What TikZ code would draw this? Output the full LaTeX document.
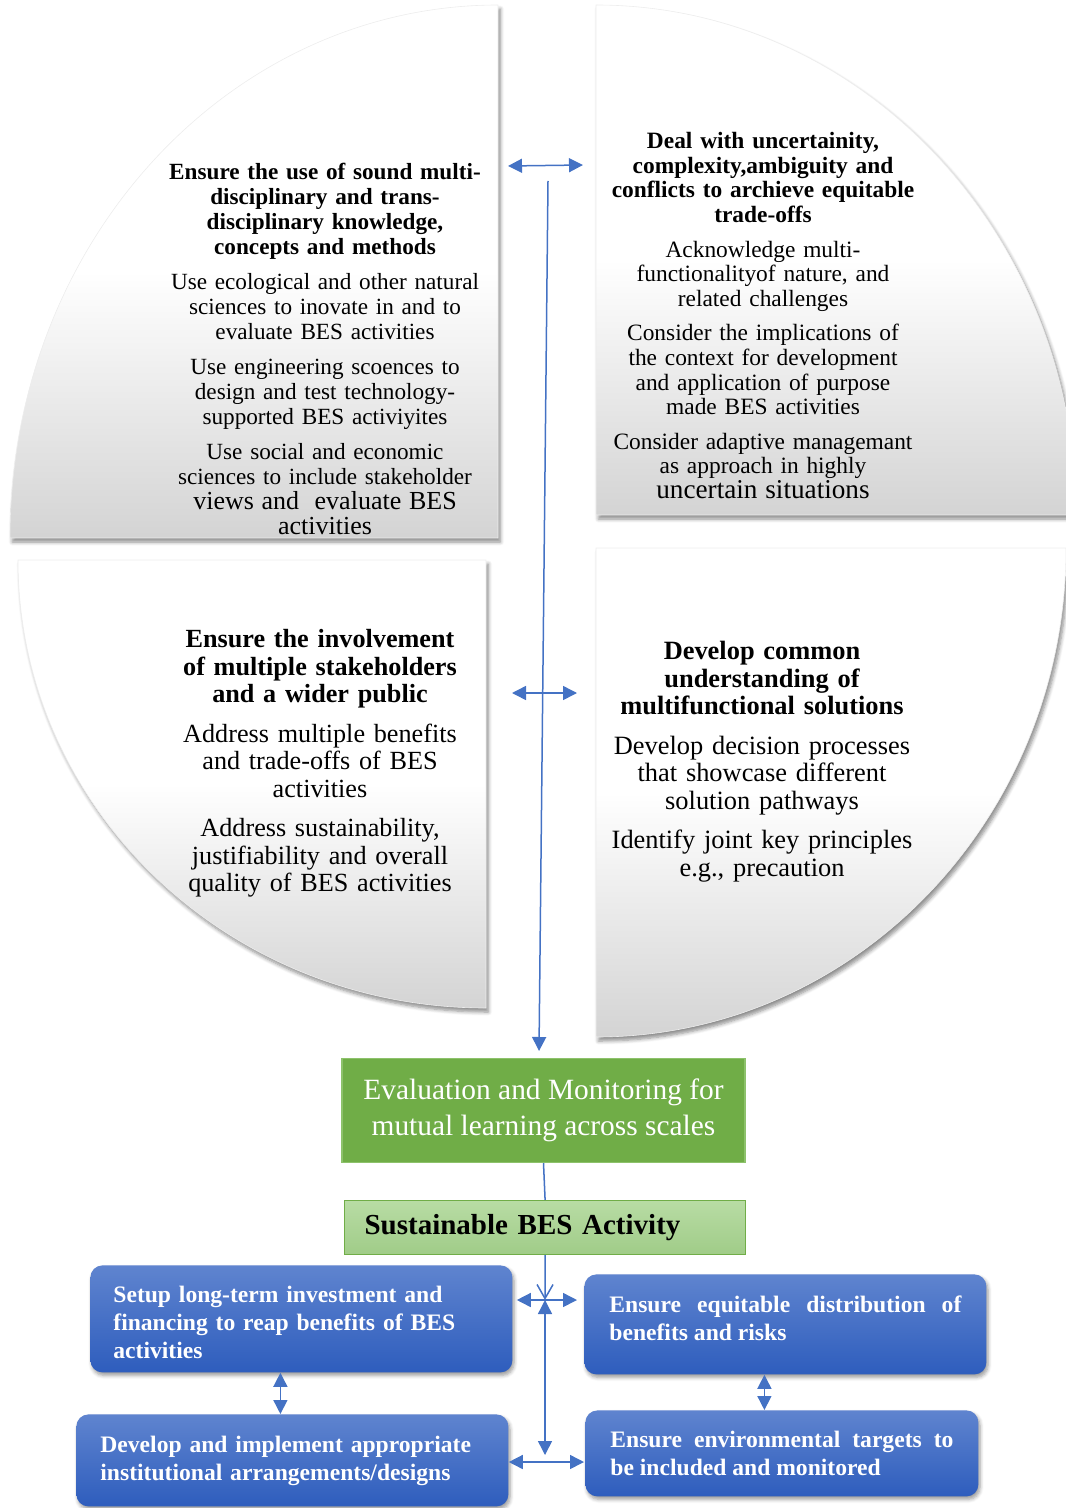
\documentclass[tikz,border=0pt]{standalone}
\usepackage{fontspec}
\setmainfont{Liberation Serif}
\usetikzlibrary{arrows.meta}
\usetikzlibrary{shadows.blur}

\definecolor{arrColor}{HTML}{4472C4}
\definecolor{evalColor}{HTML}{70AD47}
\definecolor{evalLine}{HTML}{8DC26B}
\definecolor{besTop}{HTML}{B8DCA4}
\definecolor{besBot}{HTML}{A0CC88}
\definecolor{boxTop}{HTML}{5F84CF}
\definecolor{boxBot}{HTML}{2E5DBD}

\tikzset{
  wedge/.style={top color=white, bottom color=black!17, middle color=white,
    draw=black!7, line width=0.3pt,
    blur shadow={shadow xshift=1.2pt, shadow yshift=-2pt, shadow blur steps=6, shadow opacity=45}},
  wedgetext/.style={anchor=north, align=center, inner sep=0pt, text width=#1},
  link/.style={arrColor, line width=0.75pt, {Triangle[length=7pt,width=7pt]}-{Triangle[length=7pt,width=7pt]}},
  actbox/.style={anchor=north west, rounded corners=6pt, top color=boxTop, bottom color=boxBot,
    text=white, font=\bfseries\fontsize{11.8}{14}\selectfont, inner ysep=0pt,
    blur shadow={shadow xshift=0.8pt, shadow yshift=-1.5pt, shadow blur steps=5, shadow opacity=40}},
}

\begin{document}
\begin{tikzpicture}[x=0.5pt, y=0.5pt]
    \useasboundingbox (0,0) rectangle (1065,-1508);

    % the four quarters of the circle
    \path[wedge] (498,-538) -- (10,-538) arc[start angle=180, end angle=90, x radius=244pt, y radius=266.5pt] -- cycle;
    \path[wedge] (596,-515) -- (596,-5) arc[start angle=90, end angle=0, x radius=240pt, y radius=255pt] -- cycle;
    \path[wedge] (486,-560) -- (18,-560) arc[start angle=180, end angle=270, x radius=234pt, y radius=224pt] -- cycle;
    \path[wedge] (596,-548) -- (1066,-548) arc[start angle=0, end angle=-90, x radius=235pt, y radius=244.5pt] -- cycle;

    \node[wedgetext=180pt, font=\fontsize{11.6}{12.5}\selectfont] (know) at (325,-163) {%
      {\bfseries Ensure the use of sound multi-\\disciplinary and trans-\\disciplinary knowledge,\\concepts and methods}\\[5pt]
      Use ecological and other natural\\sciences to inovate in and to\\evaluate BES activities\\[5pt]
      Use engineering scoences to\\design and test technology-\\supported BES activiyites\\[5pt]
      Use social and economic\\sciences to include stakeholder\\{\fontsize{13}{14}\selectfont views and\ \ evaluate BES}\\{\fontsize{13}{14}\selectfont activities}};

    \node[wedgetext=180pt, font=\fontsize{11.7}{12.3}\selectfont] (uncert) at (763,-132) {%
      {\bfseries Deal with uncertainity,\\complexity,ambiguity and\\conflicts to archieve equitable\\trade-offs}\\[5pt]
      Acknowledge multi-\\functionalityof nature, and\\related challenges\\[5pt]
      Consider the implications of\\the context for development\\and application of purpose\\made BES activities\\[5pt]
      Consider adaptive managemant\\as approach in highly\\{\fontsize{13.6}{13}\selectfont uncertain situations}};

    \node[wedgetext=180pt, font=\fontsize{13.1}{13.75}\selectfont] (involve) at (320,-629) {%
      {\bfseries Ensure the involvement\\of multiple stakeholders\\and a wider public}\\[6pt]
      Address multiple benefits\\and trade-offs of BES\\activities\\[6pt]
      Address sustainability,\\justifiability and overall\\quality of BES activities};

    \node[wedgetext=180pt, font=\fontsize{13.2}{13.75}\selectfont] (common) at (762,-641) {%
      {\bfseries Develop common\\understanding of\\multifunctional solutions}\\[6pt]
      Develop decision processes\\that showcase different\\solution pathways\\[6pt]
      Identify joint key principles\\e.g., precaution};

    \node[anchor=north, minimum width=201.5pt, minimum height=52pt, fill=evalColor, draw=evalLine,
      line width=0.6pt, text=white, align=center, font=\fontsize{14.7}{18}\selectfont] (eval) at (543.5,-1058)
      {Evaluation and Monitoring for\\mutual learning across scales};

    \node[anchor=north west, text width=180.5pt, inner xsep=10pt, minimum height=27pt, top color=besTop,
      bottom color=besBot, draw=evalColor, line width=0.6pt, align=left,
      font=\bfseries\fontsize{14.5}{16}\selectfont] (bes) at (344,-1200) {Sustainable BES Activity};

    \node[actbox, text width=188pt, inner xsep=11.5pt, minimum height=53.5pt, align=left] (invest) at (90,-1265)
      {Setup long-term investment and\\financing to reap benefits of BES\\activities\par\vspace{-4pt}};
    \node[actbox, text width=192pt, inner xsep=12pt, minimum height=46pt, align=left] (institution) at (76,-1414)
      {Develop and implement appropriate\\institutional arrangements/designs};
    \node[actbox, text width=176pt, inner xsep=12.5pt, minimum height=50pt, align=justify] (equity) at (584,-1274)
      {Ensure equitable distribution of\linebreak benefits and risks\par\vspace{6pt}};
    \node[actbox, text width=171.5pt, inner xsep=12.5pt, minimum height=43pt, align=justify] (targets) at (585,-1410)
      {Ensure environmental targets to\linebreak be included and monitored};

    % connectors
    \coordinate (tlR) at (508,-166);
    \coordinate (trL) at (583,-165);
    \coordinate (blR) at (512,-693);
    \coordinate (brL) at (577,-693);
    \coordinate (spine) at (548,-181);
    \coordinate (spineEnd) at (539,-1051);
    \coordinate (hub) at (545,-1300);
    \coordinate (hubLow) at (545,-1455);
    \coordinate (hubBase) at (545,-1462);

    \draw[link] (tlR) -- (trL);
    \draw[link] (blR) -- (brL);
    \draw[arrColor, line width=0.75pt, -{Triangle[length=7pt,width=7pt]}] (spine) -- (spineEnd);
    \draw[arrColor, line width=0.75pt] (eval.south) -- (bes.north);

    \draw[arrColor, line width=0.75pt, -{Straight Barb[length=7pt,width=8pt]}] (bes.south) -- (hub);
    \draw[link] (hub) -- (hubLow);
    \draw[link, shorten <=2pt, shorten >=3.5pt] (invest.east |- hub) -- (equity.west |- hub);
    \draw[link, shorten >=0.5pt] (institution.east |- hubBase) -- (targets.west |- hubBase);

    \coordinate (vl) at ([xshift=-10.5pt]invest.south);
    \coordinate (vr) at ([xshift=-10.5pt]equity.south);
    \draw[link] (vl) -- (vl |- institution.north);
    \draw[link] (vr) -- (vr |- targets.north);
\end{tikzpicture}
\end{document}
